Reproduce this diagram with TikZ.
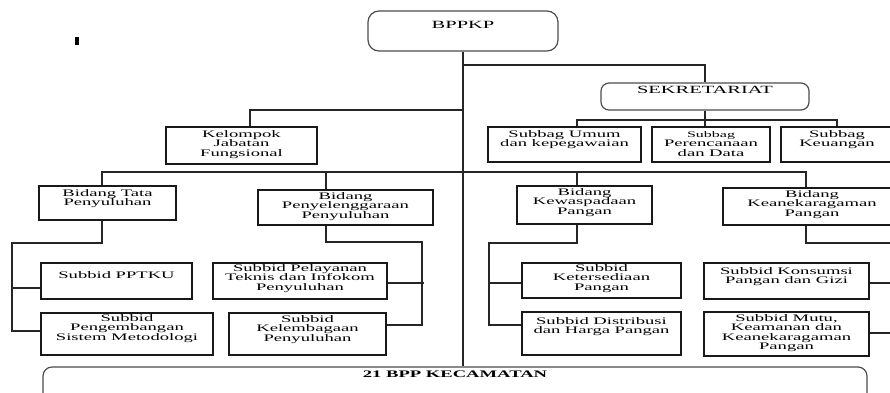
\documentclass[tikz,border=0pt]{standalone}
\usepackage{fontspec}
\setmainfont{Liberation Serif}[FakeStretch=1.86]
\newcommand{\myfs}{\fontsize{10}{9.5}\selectfont}
\newcommand{\mysmallfs}{\fontsize{8.6}{8.6}\selectfont}
\newcommand{\mybigfs}{\fontsize{11}{11}\selectfont}
\tikzset{
  box/.style={draw=black!90, line width=1.2pt, inner sep=0pt},
  rbox/.style={box, draw=black!70, rounded corners=9pt},
  lbl/.style={anchor=north, inner sep=0pt, align=center, font=\myfs},
  conn/.style={line width=1.1pt, draw=black!85},
  mainline/.style={line width=1.8pt, draw=black!85},
}
% \mybox[opts]{name}{x1}{y1}{x2}{y2}{text top}{text}
\newcommand{\mybox}[8][]{%
  \pgfmathsetmacro{\bcx}{(#3+#5)/2}\pgfmathsetmacro{\bcy}{(#4+#6)/2}%
  \pgfmathsetmacro{\bww}{#5-#3}\pgfmathsetmacro{\bhh}{#6-#4}%
  \node[box,#1,minimum width=\bww pt,minimum height=\bhh pt] (#2) at (\bcx,\bcy) {};
  \node[lbl] (#2t) at (\bcx,#7) {#8};}
\begin{document}
\begin{tikzpicture}[x=1pt,y=-1pt]
\useasboundingbox (0,0) rectangle (890,392);
\clip (0,0) rectangle (890,392);
% stray mark
\fill (75,37) rectangle (79,45);
% top level
\mybox[rbox,rounded corners=11pt]{bppkp}{368}{11}{558}{51}{21}{\mybigfs BPPKP}
\mybox[rbox,rounded corners=8pt]{sek}{601}{83}{809}{110}{86}{\mybigfs SEKRETARIAT}
% row 2
\mybox{kel}{166}{127}{317}{164}{130}{Kelompok\\Jabatan\\Fungsional}
\mybox{sbu}{488}{127}{641}{162}{130}{Subbag Umum\\dan kepegawaian}
\mybox{sbp}{652}{127}{770}{162}{131}{\mysmallfs Subbag\\Perencanaan\\dan Data}
\mybox{sbk}{781}{127}{893}{162}{130}{Subbag\\Keuangan}
% row 3
\mybox{tata}{39}{186}{176}{220}{189}{Bidang Tata\\Penyuluhan}
\mybox{peny}{258}{190}{433}{225}{192}{Bidang\\Penyelenggaraan\\Penyuluhan}
\mybox{kew}{517}{186}{652}{224}{188}{Bidang\\Kewaspadaan\\Pangan}
\mybox{kean}{723}{188}{901}{225}{190}{Bidang\\Keanekaragaman\\Pangan}
% row 4
\mybox{pptku}{41}{263}{192}{299}{271}{Subbid PPTKU}
\mybox{pel}{213}{263}{387}{299}{264}{Subbid Pelayanan\\Teknis dan Infokom\\Penyuluhan}
\mybox{ket}{522}{263}{681}{298}{264}{Subbid\\Ketersediaan\\Pangan}
\mybox{kons}{704}{263}{869}{299}{267}{Subbid Konsumsi\\Pangan dan Gizi}
% row 5
\mybox{peng}{41}{313}{213}{355}{314}{Subbid\\Pengembangan\\Sistem Metodologi}
\mybox{kelb}{229}{313}{386}{355}{315}{Subbid\\Kelembagaan\\Penyuluhan}
\mybox{dist}{522}{312}{681}{355}{317}{Subbid Distribusi\\dan Harga Pangan}
\mybox{mutu}{704}{312}{869}{356}{314}{Subbid Mutu,\\Keamanan dan\\Keanekaragaman\\Pangan}
% bottom
\mybox[rbox,rounded corners=9pt]{bpp}{43}{367}{867}{410}{371}{\bfseries 21 BPP KECAMATAN}
% main spine
\draw[mainline] (bppkp.south) -- (bppkp.south |- bpp.north);
% sekretariat
\coordinate (jS) at (463,65);
\draw[conn] (jS) -| (sek.north);
\draw[conn] (sek.south) -- ++(0,10) coordinate (jSub);
\coordinate (xa) at (577,120);
\coordinate (xb) at (837,120);
\draw[conn] (xa |- sbu.north) -- (xa) -- (xb) -- (xb |- sbk.north);
\draw[conn] (jSub) -- (jSub |- sbp.north);
% kelompok
\coordinate (jK) at (463,110);
\coordinate (kk) at (250,110);
\draw[conn] (jK) -- (kk) -- (kk |- kel.north);
% bidang row
\coordinate (bl) at (102,172);
\coordinate (bp) at (326,172);
\coordinate (bk) at (577,172);
\coordinate (br) at (806,172);
\draw[conn] (bl |- tata.north) -- (bl) -- (br) -- (br |- kean.north);
\draw[conn] (bp) -- (bp |- peny.north);
\draw[conn] (bk) -- (bk |- kew.north);
% tata children
\coordinate (t1) at (102,243);
\coordinate (t2) at (12,243);
\coordinate (t3) at (12,331);
\coordinate (t4) at (12,288);
\draw[conn] (tata.south -| t1) -- (t1) -- (t2) -- (t3) -- (t3 -| peng.west);
\draw[conn] (t4) -- (t4 -| pptku.west);
% penyelenggaraan children
\coordinate (p1) at (326,242);
\coordinate (p2) at (422,242);
\coordinate (p3) at (422,325);
\coordinate (p4) at (424,283);
\draw[conn] (peny.south -| p1) -- (p1) -- (p2) -- (p3) -- (p3 -| kelb.east);
\draw[conn] (p4) -- (p4 -| pel.east);
% kewaspadaan children
\coordinate (k1) at (577,243);
\coordinate (k2) at (489,243);
\coordinate (k3) at (489,325);
\coordinate (k4) at (489,283);
\draw[conn] (kew.south -| k1) -- (k1) -- (k2) -- (k3) -- (k3 -| dist.west);
\draw[conn] (k4) -- (k4 -| ket.west);
% keanekaragaman children
\coordinate (n1) at (806,243);
\coordinate (n2) at (900,243);
\coordinate (n3) at (900,333);
\coordinate (n4) at (900,283);
\draw[conn] (kean.south -| n1) -- (n1) -- (n2) -- (n3) -- (n3 -| mutu.east);
\draw[conn] (n4) -- (n4 -| kons.east);
\end{tikzpicture}
\end{document}
